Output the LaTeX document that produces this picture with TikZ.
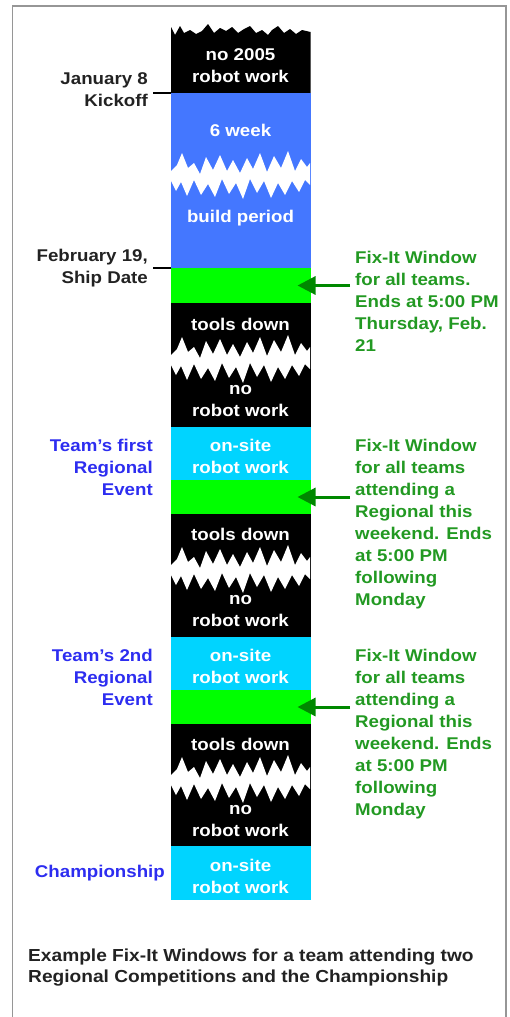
\documentclass[tikz,border=0pt]{standalone}
\usepackage{fontspec}
\setmainfont{Liberation Sans}[FakeStretch=1.1]
\usepackage{tikz}
\usetikzlibrary{arrows.meta}
\definecolor{buildblue}{RGB}{68,119,255}
\definecolor{siteblue}{RGB}{0,212,255}
\definecolor{fixgreen}{RGB}{0,255,0}
\definecolor{notegreen}{RGB}{34,153,34}
\definecolor{arrowgreen}{RGB}{0,136,0}
\definecolor{eventblue}{RGB}{45,45,240}
\definecolor{datetext}{RGB}{34,34,34}
\definecolor{framegray}{RGB}{150,150,150}
\newcommand{\boldtext}{\fontsize{17}{22}\selectfont\bfseries}
\newcommand{\tornband}[1]{%
  % white rip across the column, centred at height #1
  \fill[white,shift={(171,#1)}] (0,-6) -- (6,-12) -- (11,-24) -- (17,-9) -- (23,-14)
    -- (29,-3) -- (35,-20) -- (42,-7) -- (49,-22) -- (56,-6) -- (62,-17)
    -- (69,-4) -- (76,-19) -- (82,-8) -- (89,-24) -- (96,-5) -- (103,-21)
    -- (110,-9) -- (117,-26) -- (124,-6) -- (130,-18) -- (136,-10) -- (139,-14)
    -- (139,8) -- (134,3) -- (128,15) -- (121,4) -- (114,18) -- (107,6)
    -- (100,21) -- (93,4) -- (86,16) -- (79,2) -- (72,22) -- (65,6)
    -- (58,17) -- (51,2) -- (44,20) -- (37,7) -- (30,18) -- (23,3)
    -- (16,19) -- (10,5) -- (5,14) -- (0,4) -- cycle;
}

\begin{document}
\begin{tikzpicture}[x=1pt,y=-1pt,
    seg/.style={minimum width=139.5,minimum height=#1,inner sep=0,
      outer sep=0,anchor=north west},
    coltext/.style={text=white,font=\boldtext,align=center,inner sep=0},
    datelabel/.style={text=datetext,font=\boldtext,align=right,inner sep=0,anchor=east},
    eventlabel/.style={text=eventblue,font=\boldtext,align=right,inner sep=0,anchor=east},
    note/.style={text=notegreen,font=\boldtext,align=left,inner sep=0,anchor=north west},
    tick/.style={black,line width=2pt},
    fixarrow/.style={arrowgreen,line width=3pt,-{Triangle[length=18pt,width=18pt]}},
    frame/.style={framegray,line width=1.5pt}]
    \useasboundingbox (0,0) rectangle (510,1017);
    \draw[frame] (12.5,1030) -- (12.5,6) -- (506,6) -- (506,1030);

    % column of periods
    \fill[black] (171,27) -- (175,35) -- (180,26) -- (184,33) -- (190,30)
      -- (196,34) -- (202,31) -- (208,24) -- (214,33) -- (220,28) -- (226,31)
      -- (232,27) -- (238,33) -- (244,29) -- (250,26) -- (256,33) -- (262,30)
      -- (268,35) -- (272,30) -- (278,26) -- (284,33) -- (290,29) -- (296,34)
      -- (302,30) -- (310.5,32) -- (310.5,93) -- (171,93) -- cycle;
    \node[seg=175,fill=buildblue] (build) at (171,93) {};
    \node[seg=35,fill=fixgreen] (win1) at (171,268) {};
    \node[seg=124,fill=black] (down1) at (171,303) {};
    \node[seg=53,fill=siteblue] (site1) at (171,427) {};
    \node[seg=34,fill=fixgreen] (win2) at (171,480) {};
    \node[seg=123,fill=black] (down2) at (171,514) {};
    \node[seg=53,fill=siteblue] (site2) at (171,637) {};
    \node[seg=34,fill=fixgreen] (win3) at (171,690) {};
    \node[seg=122,fill=black] (down3) at (171,724) {};
    \node[seg=54,fill=siteblue] (site3) at (171,846) {};
    \tornband{177}
    \tornband{361}
    \tornband{571}
    \tornband{781}

    \node[coltext] (nowork0) at (240.5,66) {no 2005\\robot work};
    \node[coltext] (weeks) at (240.5,130) {6 week};
    \node[coltext] (buildname) at (240.5,218) {build period};
    \node[coltext] (tools1) at (240.5,324) {tools down};
    \node[coltext] (nowork1) at (240.5,401) {no\\robot work};
    \node[coltext] (onsite1) at (240.5,456) {on-site\\robot work};
    \node[coltext] (tools2) at (240.5,534) {tools down};
    \node[coltext] (nowork2) at (240.5,611) {no\\robot work};
    \node[coltext] (onsite2) at (240.5,666) {on-site\\robot work};
    \node[coltext] (tools3) at (240.5,744) {tools down};
    \node[coltext] (nowork3) at (240.5,821) {no\\robot work};
    \node[coltext] (onsite3) at (240.5,876) {on-site\\robot work};

    % dates and events
    \node[datelabel] (kickoff) at (148,90) {January 8\\Kickoff};
    \node[datelabel] (ship) at (148,268) {February 19,\\Ship Date};
    \draw[tick] (build.north west) -- ++(-18,0);
    \draw[tick] (win1.north west) -- ++(-18,0);
    \node[eventlabel] (event1) at (153,467) {Team's first\\Regional\\Event};
    \node[eventlabel] (event2) at (153,677) {Team's 2nd\\Regional\\Event};
    \node[eventlabel] (champs) at (165,873) {Championship};

    % fix-it windows
    \node[note] (note1) at (355,251) {Fix-It Window\\for all teams.\\Ends at 5:00 PM\\Thursday, Feb.\\21};
    \node[note] (note2) at (355,439) {Fix-It Window\\for all teams\\attending a\\Regional this\\weekend. Ends\\at 5:00 PM\\following\\Monday};
    \node[note] (note3) at (355,649) {Fix-It Window\\for all teams\\attending a\\Regional this\\weekend. Ends\\at 5:00 PM\\following\\Monday};
    \draw[fixarrow] ([xshift=-5pt]win1.east -| note1.west) -- ([xshift=-13pt]win1.east);
    \draw[fixarrow] ([xshift=-5pt]win2.east -| note2.west) -- ([xshift=-13pt]win2.east);
    \draw[fixarrow] ([xshift=-5pt]win3.east -| note3.west) -- ([xshift=-13pt]win3.east);

    \node[note,text=datetext,font=\fontsize{17.4}{20.5}\selectfont\bfseries] (caption) at (28,949)
      {Example Fix-It Windows for a team attending two\\Regional Competitions and the Championship};
\end{tikzpicture}
\end{document}
